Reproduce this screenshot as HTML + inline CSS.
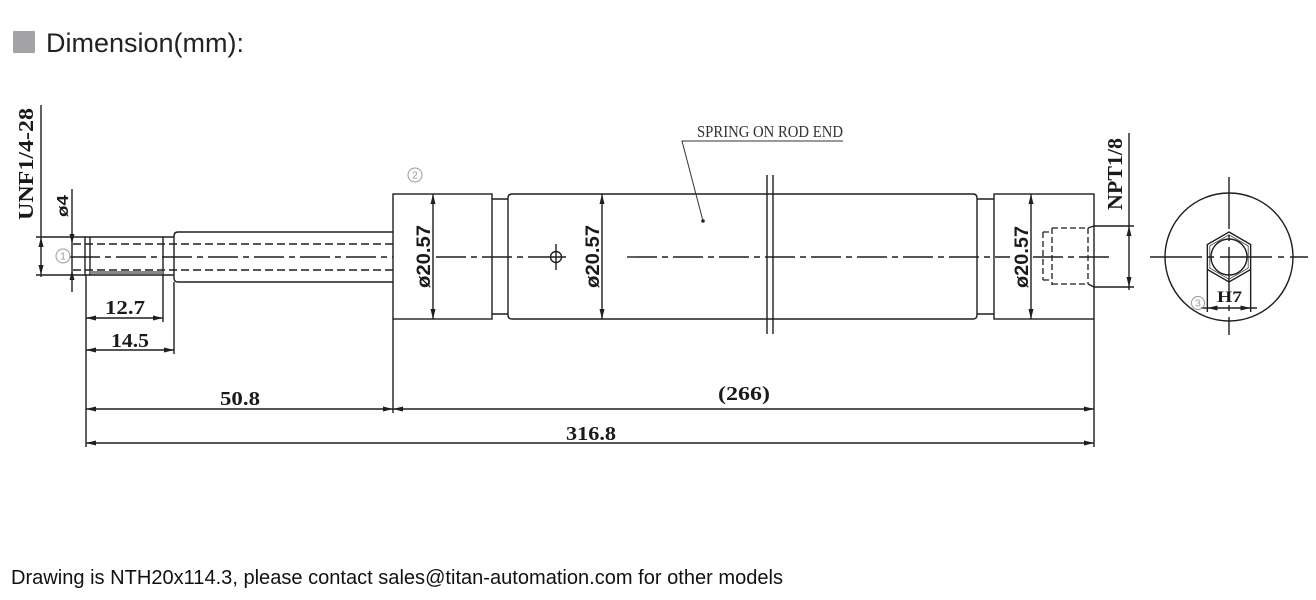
<!DOCTYPE html>
<html>
<head>
<meta charset="utf-8">
<style>
html,body{margin:0;padding:0;background:#fff;}
svg{display:block;}
</style>
</head>
<body>
<svg width="1316" height="600" viewBox="0 0 1316 600" xmlns="http://www.w3.org/2000/svg">
<rect x="0" y="0" width="1316" height="600" fill="#fff"/>

<!-- Header -->
<rect x="13" y="31" width="22" height="22" fill="#a3a3a5"/>
<text x="46" y="52" font-family="'Liberation Sans', Arial, sans-serif" font-size="27" fill="#222" textLength="198" lengthAdjust="spacingAndGlyphs">Dimension(mm):</text>

<!-- Footer -->
<text x="11" y="584" font-family="'Liberation Sans', Arial, sans-serif" font-size="20" fill="#111" textLength="772" lengthAdjust="spacingAndGlyphs">Drawing is NTH20x114.3, please contact sales@titan-automation.com for other models</text>

<!-- Main outlines -->
<g stroke="#1e1e1e" stroke-width="1.4" fill="none">
  <!-- thread -->
  <path d="M85,237 H174 M85,275 H174 M85,237 V275 M90,237 V275 M163,237 V322"/>
  <!-- rod -->
  <path d="M393,232 H178 Q174,232 174,236 V278 Q174,282 178,282 H393"/>
  <path d="M174,282 V354"/>
  <!-- left block -->
  <rect x="393" y="194" width="99" height="125"/>
  <!-- neck -->
  <path d="M492,199 H508 M492,314 H508"/>
  <!-- main body -->
  <path d="M512,194 H973 Q977,194 977,198 V315 Q977,319 973,319 H512 Q508,319 508,315 V198 Q508,194 512,194 Z"/>
  <!-- right neck -->
  <path d="M977,199 H994 M977,314 H994"/>
  <!-- right block -->
  <rect x="994" y="194" width="100" height="125"/>
  <!-- break lines -->
  <path d="M767,175 V334 M773,175 V334"/>
  <!-- crosshair -->
  <circle cx="556" cy="257" r="5.5"/>
  <path d="M556,244 V270 M546,257 H566"/>
  <!-- port solid tapers -->
  <path d="M1088,228 L1094,226 M1088,284 L1094,287"/>
  <!-- extension lines -->
  <path d="M86,275 V447 M393,319 V413 M1094,319 V447"/>
  <!-- UNF dim -->
  <path d="M41,105 V277 M36,237 H85 M36,275 H85"/>
  <!-- ø4 dim -->
  <path d="M72,189 V292"/>
  <!-- horizontal dims -->
  <path d="M86,318 H163 M86,350 H174 M86,409 H1094 M86,443 H1094"/>
  <!-- ø20.57 dims -->
  <path d="M433,194 V319 M602,194 V319 M1031,194 V319"/>
  <!-- NPT dim -->
  <path d="M1129,133 V290 M1094,226 H1134 M1094,287 H1134"/>
  <!-- end view -->
  <circle cx="1229" cy="257" r="64"/>
  <polygon points="1229,232 1250.65,244.5 1250.65,269.5 1229,282 1207.35,269.5 1207.35,244.5"/>
  <circle cx="1229" cy="257" r="18"/>
  <path d="M1207.35,269.5 V312 M1250.65,269.5 V312 M1201,308 H1257"/>
</g>
<polygon points="1229,234.8 1248.2,245.9 1248.2,268.1 1229,279.2 1209.8,268.1 1209.8,245.9" fill="none" stroke="#444" stroke-width="0.8"/>

<!-- gray band on thread -->
<rect x="90" y="271" width="73" height="3" fill="#888"/>

<!-- leader -->
<path d="M703,221 L682,141 H843" stroke="#333" stroke-width="1" fill="none"/>
<circle cx="703" cy="221" r="1.8" fill="#222"/>

<!-- hidden (dashed) lines -->
<g stroke="#1e1e1e" stroke-width="1.4" fill="none" stroke-dasharray="8 4">
  <path d="M73,244 H393 M73,270 H393"/>
</g>
<g stroke="#1e1e1e" stroke-width="1.3" fill="none" stroke-dasharray="6 3">
  <path d="M1043,232 V280 M1043,232 H1052 M1043,280 H1052 M1052,228 V285 M1052,228 H1088 M1052,284 H1088 M1088,228 V284"/>
</g>

<!-- centerlines -->
<g stroke="#1e1e1e" stroke-width="1.4" fill="none" stroke-dasharray="30 5 6 5">
  <path d="M70,257 H393"/>
  <path d="M436,257 H546"/>
  <path d="M627,257 H1010"/>
  <path d="M1033,257 H1112"/>
</g>
<g stroke="#1e1e1e" stroke-width="1.4" fill="none" stroke-dasharray="52 6 6 6">
  <path d="M1150,257 H1308"/>
  <path d="M1229,177 V335"/>
</g>

<!-- arrowheads -->
<g fill="#1e1e1e">
  <polygon points="41,237 38.5,247 43.5,247"/>
  <polygon points="41,275 38.5,265 43.5,265"/>
  <polygon points="72,244 69.5,234 74.5,234"/>
  <polygon points="72,270 69.5,280 74.5,280"/>
  <polygon points="86,318 96,315.5 96,320.5"/>
  <polygon points="163,318 153,315.5 153,320.5"/>
  <polygon points="86,350 96,347.5 96,352.5"/>
  <polygon points="174,350 164,347.5 164,352.5"/>
  <polygon points="86,409 96,406.5 96,411.5"/>
  <polygon points="393,409 383,406.5 383,411.5"/>
  <polygon points="393,409 403,406.5 403,411.5"/>
  <polygon points="1094,409 1084,406.5 1084,411.5"/>
  <polygon points="86,443 96,440.5 96,445.5"/>
  <polygon points="1094,443 1084,440.5 1084,445.5"/>
  <polygon points="433,194 430.5,204 435.5,204"/>
  <polygon points="433,319 430.5,309 435.5,309"/>
  <polygon points="602,194 599.5,204 604.5,204"/>
  <polygon points="602,319 599.5,309 604.5,309"/>
  <polygon points="1031,194 1028.5,204 1033.5,204"/>
  <polygon points="1031,319 1028.5,309 1033.5,309"/>
  <polygon points="1129,226 1126.5,236 1131.5,236"/>
  <polygon points="1129,287 1126.5,277 1131.5,277"/>
  <polygon points="1207.5,308 1217.5,305.5 1217.5,310.5"/>
  <polygon points="1250.5,308 1240.5,305.5 1240.5,310.5"/>
</g>

<!-- circled numbers -->
<g stroke="#9a9a9a" stroke-width="1" fill="none">
  <circle cx="63" cy="256" r="7"/>
  <circle cx="415" cy="175" r="7"/>
  <circle cx="1198" cy="303" r="6.5"/>
</g>
<g font-family="'Liberation Sans', Arial, sans-serif" font-size="10" fill="#9a9a9a" text-anchor="middle">
  <text x="63" y="259.5">1</text>
  <text x="415" y="178.5">2</text>
  <text x="1198" y="306.5">3</text>
</g>

<!-- rotated labels -->
<g font-family="'Liberation Serif', 'Times New Roman', serif" font-weight="bold" fill="#1a1a1a" text-anchor="middle">
  <text transform="translate(33,164) rotate(-90)" font-size="21" textLength="112" lengthAdjust="spacingAndGlyphs">UNF1/4-28</text>
  <text transform="translate(1122,174) rotate(-90)" font-size="21" textLength="72" lengthAdjust="spacingAndGlyphs">NPT1/8</text>
</g>
<g font-family="'Liberation Sans', Arial, sans-serif" font-weight="bold" fill="#1a1a1a" text-anchor="middle">
  <text transform="translate(68,206) rotate(-90)" font-size="16" textLength="22" lengthAdjust="spacingAndGlyphs">ø4</text>
  <text transform="translate(430,256.5) rotate(-90)" font-size="19" textLength="63" lengthAdjust="spacingAndGlyphs">ø20.57</text>
  <text transform="translate(599,256.5) rotate(-90)" font-size="19" textLength="63" lengthAdjust="spacingAndGlyphs">ø20.57</text>
  <text transform="translate(1028,257) rotate(-90)" font-size="19" textLength="62" lengthAdjust="spacingAndGlyphs">ø20.57</text>
</g>

<!-- horizontal dimension labels -->
<g font-family="'Liberation Serif', 'Times New Roman', serif" font-weight="bold" fill="#1a1a1a" text-anchor="middle" font-size="20">
  <text x="125" y="314" textLength="40" lengthAdjust="spacingAndGlyphs">12.7</text>
  <text x="130" y="347" textLength="38" lengthAdjust="spacingAndGlyphs">14.5</text>
  <text x="240" y="405" textLength="40" lengthAdjust="spacingAndGlyphs">50.8</text>
  <text x="744" y="400" textLength="52" lengthAdjust="spacingAndGlyphs">(266)</text>
  <text x="591" y="440" textLength="50" lengthAdjust="spacingAndGlyphs">316.8</text>
  <text x="1229.5" y="302" font-size="16" textLength="25" lengthAdjust="spacingAndGlyphs">H7</text>
</g>

<!-- leader label -->
<text x="697" y="137" font-family="'Liberation Serif', 'Times New Roman', serif" font-size="17" fill="#333" textLength="146" lengthAdjust="spacingAndGlyphs">SPRING ON ROD END</text>

</svg>
</body>
</html>
